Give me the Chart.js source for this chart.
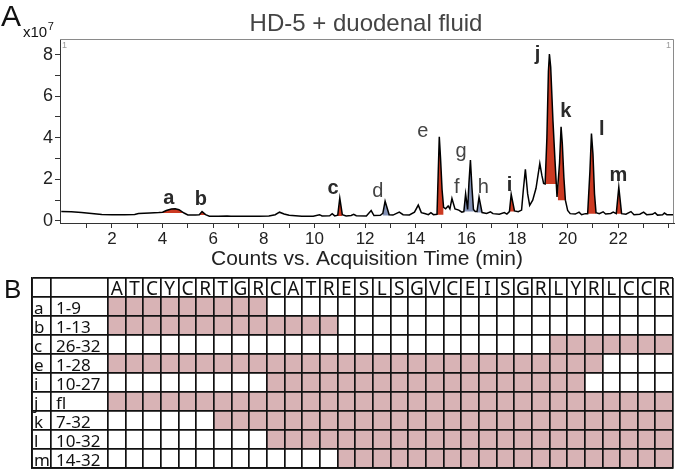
<!DOCTYPE html>
<html>
<head>
<meta charset="utf-8">
<script src="https://cdn.jsdelivr.net/npm/chart.js@4.4.1/dist/chart.umd.min.js"></script>
<style>
  body { margin: 0; background: #fff; }
  #wrap { position: relative; width: 677px; height: 471px; }
  #chromCanvas { position: absolute; left: 0; top: 0; }
  #mapCanvas { position: absolute; left: 0; top: 270px; }
</style>
</head>
<body>
<div id="wrap">
  <canvas id="chromCanvas" width="677" height="272"></canvas>
  <canvas id="mapCanvas" width="677" height="201"></canvas>
</div>
<script>
"use strict";
// chromatogram: acquisition time (min) and counts (x10^7)
const rt = [
  0.00, 0.40, 0.80, 1.20, 1.60, 2.00, 2.50, 2.90, 3.05, 3.50, 3.85, 4.00, 4.15, 4.35, 4.50, 4.65, 4.85,
  5.00, 5.30, 5.45, 5.56, 5.70, 5.85, 6.20, 6.55, 6.70, 7.20, 7.80, 8.20, 8.45, 8.62, 8.80, 9.00, 9.50,
  9.95, 10.20, 10.30, 10.60, 10.70, 10.80, 10.92, 11.00, 11.10, 11.25, 11.45, 11.55, 11.65, 12.05, 12.24,
  12.35, 12.60, 12.70, 12.79, 12.95, 13.10, 13.35, 13.50, 13.75, 13.95, 14.10, 14.22, 14.35, 14.50, 14.60,
  14.70, 14.84, 14.89, 14.93, 14.98, 15.04, 15.10, 15.18, 15.28, 15.35, 15.43, 15.55, 15.70, 15.82, 15.90,
  15.97, 16.05, 16.10, 16.16, 16.22, 16.28, 16.35, 16.42, 16.50, 16.62, 16.80, 16.95, 17.05, 17.30, 17.50,
  17.60, 17.70, 17.77, 17.90, 18.05, 18.18, 18.25, 18.33, 18.42, 18.50, 18.62, 18.75, 18.90, 18.98, 19.05,
  19.11, 19.18, 19.24, 19.28, 19.33, 19.42, 19.50, 19.55, 19.58, 19.61, 19.68, 19.74, 19.79, 19.85, 19.91,
  20.00, 20.10, 20.30, 20.45, 20.55, 20.70, 20.79, 20.88, 20.94, 21.00, 21.06, 21.12, 21.25, 21.40, 21.50,
  21.70, 21.80, 21.92, 22.02, 22.13, 22.30, 22.50, 22.62, 22.85, 23.00, 23.12, 23.35, 23.45, 23.55, 23.75,
  23.82, 23.92, 24.20
];
const counts = [
  0.45, 0.44, 0.41, 0.36, 0.31, 0.30, 0.30, 0.31, 0.36, 0.38, 0.40, 0.42, 0.50, 0.57, 0.58, 0.54, 0.38,
  0.29, 0.28, 0.30, 0.45, 0.30, 0.23, 0.22, 0.24, 0.22, 0.22, 0.22, 0.24, 0.30, 0.42, 0.33, 0.27, 0.22,
  0.23, 0.30, 0.24, 0.25, 0.35, 0.24, 0.28, 1.10, 0.30, 0.24, 0.26, 0.32, 0.25, 0.24, 0.50,
  0.26, 0.27, 0.36, 0.95, 0.30, 0.28, 0.42, 0.30, 0.29, 0.42, 0.76, 0.40, 0.36, 0.30, 0.40,
  0.30, 0.32, 2.40, 4.05, 3.00, 1.50, 0.65, 0.58, 0.72, 0.58, 1.08, 0.58, 0.52, 0.42, 0.45,
  1.30, 0.55, 1.80, 2.93, 1.60, 0.55, 0.45, 0.45, 1.14, 0.40, 0.36, 0.44, 0.35, 0.32, 0.40,
  0.33, 0.45, 1.28, 0.48, 0.44, 0.52, 1.50, 2.48, 1.30, 0.75, 1.00, 1.57, 2.77, 2.20, 1.80,
  1.78, 4.00, 7.20, 8.03, 7.40, 4.80, 2.90, 1.80, 1.15, 1.15, 2.80, 4.53, 3.70, 2.10, 1.00,
  0.50, 0.35, 0.33, 0.42, 0.30, 0.35, 0.35, 2.40, 4.20, 3.20, 1.30, 0.40, 0.35, 0.44, 0.33,
  0.36, 0.42, 0.35, 1.62, 0.35, 0.32, 0.45, 0.30, 0.32, 0.42, 0.30, 0.32, 0.40, 0.28, 0.30,
  0.38, 0.30, 0.30
];
const xTicks = [1, 2, 3, 4, 5, 6, 7, 8, 9, 10, 11, 12, 13, 14, 15, 16, 17, 18, 19, 20, 21, 22, 23, 24];
const xTickLabels = [2, 4, 6, 8, 10, 12, 14, 16, 18, 20, 22];
const yTicks = [0, 1, 2, 3, 4, 5, 6, 7, 8];
const yTickLabels = [0, 2, 4, 6, 8];

// shaded peaks: window in min, fill floor in counts, group (hd5 fragment or other)
const peakFrom = [4.00, 5.45, 10.92, 12.70, 14.84, 15.90, 16.42, 17.70, 19.11, 19.61, 20.79, 21.92];
const peakTo   = [4.85, 5.70, 11.10, 12.95, 15.10, 16.35, 16.62, 17.90, 19.55, 19.91, 21.12, 22.13];
const peakBase = [0.38, 0.28, 0.24, 0.26, 0.30, 0.45, 0.40, 0.45, 1.78, 1.00, 0.35, 0.35];
const peakGroup = ['hd5', 'hd5', 'hd5', 'other', 'hd5', 'other', 'other', 'hd5', 'hd5', 'hd5', 'hd5', 'hd5'];

// peak letters, anchored in data units
const labelText = ['a', 'b', 'c', 'd', 'e', 'f', 'g', 'h', 'i', 'j', 'k', 'l', 'm'];
const labelBold = [true, true, true, false, false, false, false, false, true, true, true, true, true];
const labelT = [4.25, 5.51, 10.73, 12.50, 14.28, 15.62, 15.79, 16.67, 17.70, 18.81, 19.93, 21.35, 22.00];
const labelV = [0.82, 0.77, 1.30, 1.17, 4.04, 1.35, 3.09, 1.33, 1.44, 7.74, 5.01, 4.13, 1.94];

// table B: HD-5 sequence and fragments
const residues = ['A','T','C','Y','C','R','T','G','R','C','A','T','R','E','S','L','S','G','V','C','E','I','S','G','R','L','Y','R','L','C','C','R'];
const fragName  = ['a', 'b', 'c', 'e', 'i', 'j', 'k', 'l', 'm'];
const fragStart = [1, 1, 26, 1, 10, 1, 7, 10, 14];
const fragEnd   = [9, 13, 32, 28, 27, 32, 32, 32, 32];

const SANS = '"Liberation Sans", Arial, sans-serif';
const TABLE_FONT = '"Noto Sans", sans-serif';
const RED = '#cc3a22';
const BLUE = '#8391b5';
const PINK = '#d8b3b5';

const tracePts = rt.map((t, i) => ({ x: t, y: counts[i] }));

const peakSets = peakFrom.map((from, i) => ({
    data: tracePts.filter(p => p.x >= from - 1e-9 && p.x <= peakTo[i] + 1e-9),
    borderColor: 'rgba(0,0,0,0)',
    borderWidth: 0,
    pointRadius: 0,
    backgroundColor: peakGroup[i] === 'hd5' ? RED : BLUE,
    fill: { value: peakBase[i] },
    order: 2
}));

const chromDecor = {
    id: 'chromDecor',
    afterDraw(chart) {
        const ctx = chart.ctx;
        const a = chart.chartArea;
        const xs = chart.scales.x, ys = chart.scales.y;
        ctx.save();
        // top and right frame
        ctx.strokeStyle = '#8a8a8a';
        ctx.lineWidth = 1;
        ctx.beginPath();
        ctx.moveTo(a.left, a.top + 0.5);
        ctx.lineTo(a.right - 0.5, a.top + 0.5);
        ctx.lineTo(a.right - 0.5, a.bottom);
        ctx.stroke();

        ctx.fillStyle = '#111';
        ctx.textBaseline = 'alphabetic';
        ctx.textAlign = 'left';
        ctx.font = '30px ' + SANS;
        ctx.fillText('A', 1, 26);
        ctx.font = '15px ' + SANS;
        ctx.fillText('x10', 23, 37);
        const w = ctx.measureText('x10').width;
        ctx.font = '11px ' + SANS;
        ctx.fillText('7', 23 + w + 0.5, 30);

        ctx.fillStyle = '#444';
        ctx.textAlign = 'center';
        ctx.font = '24px ' + SANS;
        ctx.fillText('HD-5 + duodenal fluid', 366, 31);

        ctx.fillStyle = '#9a9a9a';
        ctx.font = '9px ' + SANS;
        ctx.textAlign = 'left';
        ctx.fillText('1', a.left + 2, a.top + 9);
        ctx.textAlign = 'right';
        ctx.fillText('1', a.right - 3, a.top + 9);

        ctx.textAlign = 'center';
        labelText.forEach((txt, i) => {
            ctx.font = (labelBold[i] ? 'bold 20px ' : '20px ') + SANS;
            ctx.fillStyle = labelBold[i] ? '#2a2a2a' : '#444';
            ctx.fillText(txt, xs.getPixelForValue(labelT[i]), ys.getPixelForValue(labelV[i]));
        });
        ctx.restore();
    }
};

new Chart(document.getElementById('chromCanvas'), {
    type: 'line',
    data: {
        datasets: [{
            data: tracePts,
            borderColor: '#000',
            borderWidth: 1.5,
            pointRadius: 0,
            fill: false,
            tension: 0,
            order: 0
        }].concat(peakSets)
    },
    options: {
        responsive: false,
        animation: false,
        layout: { padding: { top: 39, right: 3, left: 0, bottom: 0 } },
        plugins: { legend: { display: false }, tooltip: { enabled: false } },
        scales: {
            x: {
                type: 'linear',
                min: -0.05,
                max: 24.2,
                afterBuildTicks: s => { s.ticks = xTicks.map(v => ({ value: v })); },
                afterFit: s => { s.height = 49; },
                grid: { drawOnChartArea: false, tickLength: 5, color: '#333' },
                border: { color: '#333', width: 1 },
                ticks: {
                    autoSkip: false, maxRotation: 0, padding: 1, color: '#222',
                    font: { family: SANS, size: 17 },
                    callback: v => xTickLabels.includes(v) ? String(v) : ''
                },
                title: {
                    display: true, text: 'Counts vs. Acquisition Time (min)', color: '#222',
                    font: { family: SANS, size: 21 }, padding: 0
                }
            },
            y: {
                min: -0.1,
                max: 8.75,
                afterBuildTicks: s => { s.ticks = yTicks.map(v => ({ value: v })); },
                afterFit: s => { s.width = 60; },
                grid: { drawOnChartArea: false, tickLength: 5, color: '#333' },
                border: { color: '#333', width: 1 },
                ticks: {
                    autoSkip: false, padding: 2, color: '#222',
                    font: { family: SANS, size: 18 },
                    callback: v => yTickLabels.includes(v) ? String(v) : ''
                }
            }
        }
    },
    plugins: [chromDecor]
});

// table columns: letter col and range col widths in residue cells
const LETTER_COL = 1.075;
const RANGE_COL = 3.226;
const mapMin = 0.5 - RANGE_COL - LETTER_COL;
const mapBounds = [mapMin, 0.5 - RANGE_COL, 0.5].concat(residues.map((r, i) => i + 1.5));

const rowLabels = [''].concat(fragName);
const spans = [null].concat(fragStart.map((s, i) => [s - 0.5, fragEnd[i] + 0.5]));

const mapText = {
    id: 'mapText',
    afterDraw(chart) {
        const ctx = chart.ctx;
        const xs = chart.scales.x, ys = chart.scales.y;
        const rowH = ys.getPixelForValue(1) - ys.getPixelForValue(0);
        const rowBottom = i => ys.getPixelForValue(i) + rowH / 2;
        ctx.save();
        ctx.fillStyle = '#111';
        ctx.textBaseline = 'alphabetic';
        ctx.font = '26px ' + SANS;
        ctx.textAlign = 'left';
        ctx.fillText('B', 4, 28);

        ctx.font = '19px ' + TABLE_FONT;
        ctx.textAlign = 'center';
        residues.forEach((r, i) => {
            ctx.fillText(r, xs.getPixelForValue(i + 1), rowBottom(0) - 2.5);
        });
        ctx.font = '17px ' + TABLE_FONT;
        ctx.textAlign = 'left';
        fragName.forEach((n, i) => {
            const y = rowBottom(i + 1) - 2.5;
            const range = (fragStart[i] === 1 && fragEnd[i] === residues.length) ? 'fl' : fragStart[i] + '-' + fragEnd[i];
            ctx.fillText(n, xs.getPixelForValue(mapMin) + 2, y);
            ctx.fillText(range, xs.getPixelForValue(0.5 - RANGE_COL) + 5, y);
        });
        ctx.restore();
    }
};

new Chart(document.getElementById('mapCanvas'), {
    type: 'bar',
    data: {
        labels: rowLabels,
        datasets: [{
            data: spans,
            backgroundColor: PINK,
            borderWidth: 0,
            barPercentage: 1,
            categoryPercentage: 1
        }]
    },
    options: {
        indexAxis: 'y',
        responsive: false,
        animation: false,
        layout: { padding: { left: 32, right: 4, top: 8, bottom: 3 } },
        plugins: { legend: { display: false }, tooltip: { enabled: false } },
        scales: {
            x: {
                type: 'linear',
                min: mapMin,
                max: residues.length + 0.5,
                afterBuildTicks: s => { s.ticks = mapBounds.map(v => ({ value: v })); },
                afterFit: s => { s.height = 0; },
                ticks: { display: false },
                grid: { color: '#111', lineWidth: 1.7, drawTicks: false, z: 1 },
                border: { color: '#111', width: 1.8, z: 1 }
            },
            y: {
                type: 'category',
                offset: true,
                afterFit: s => { s.width = 0; },
                ticks: { display: false },
                grid: { color: '#111', lineWidth: 1.7, drawTicks: false, offset: true, z: 1 },
                border: { color: '#111', width: 1.8, z: 1 }
            }
        }
    },
    plugins: [mapText]
});
</script>
</body>
</html>
